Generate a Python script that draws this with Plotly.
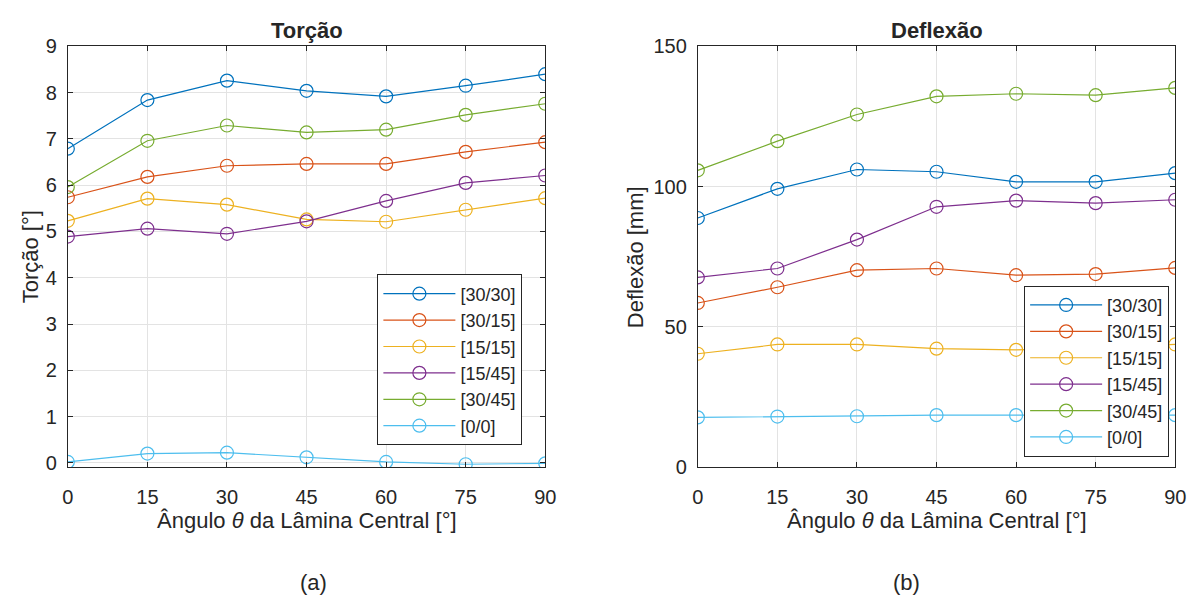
import plotly.graph_objects as go

angles = [0, 15, 30, 45, 60, 75, 90]
series_names = ["[30/30]", "[30/15]", "[15/15]", "[15/45]", "[30/45]", "[0/0]"]
colors = ["#0072BD", "#D95319", "#EDB120", "#7E2F8E", "#77AC30", "#4DBEEE"]

torcao_30_30 = [6.79, 7.84, 8.26, 8.04, 7.92, 8.15, 8.40]
torcao_30_15 = [5.74, 6.18, 6.42, 6.46, 6.46, 6.72, 6.93]
torcao_15_15 = [5.23, 5.71, 5.58, 5.26, 5.21, 5.47, 5.72]
torcao_15_45 = [4.89, 5.06, 4.95, 5.22, 5.66, 6.05, 6.21]
torcao_30_45 = [5.96, 6.96, 7.29, 7.14, 7.20, 7.52, 7.76]
torcao_0_0 = [0.02, 0.20, 0.22, 0.12, 0.02, -0.03, -0.01]

deflexao_30_30 = [88.8, 99.2, 106.1, 105.3, 101.7, 101.7, 104.8]
deflexao_30_15 = [58.5, 64.1, 70.2, 70.8, 68.4, 68.8, 71.0]
deflexao_15_15 = [40.4, 43.7, 43.7, 42.2, 41.8, 42.5, 43.7]
deflexao_15_45 = [67.6, 70.8, 81.1, 92.8, 95.0, 94.1, 95.3]
deflexao_30_45 = [105.8, 116.2, 125.7, 132.2, 133.1, 132.6, 135.2]
deflexao_0_0 = [17.7, 18.0, 18.1, 18.5, 18.5, 18.5, 18.5]

torcao = [torcao_30_30, torcao_30_15, torcao_15_15, torcao_15_45, torcao_30_45, torcao_0_0]
deflexao = [deflexao_30_30, deflexao_30_15, deflexao_15_15, deflexao_15_45, deflexao_30_45, deflexao_0_0]

x_ticks = [0, 15, 30, 45, 60, 75, 90]
torcao_ticks = [0, 1, 2, 3, 4, 5, 6, 7, 8, 9]
deflexao_ticks = [0, 50, 100, 150]

FONT = "Liberation Sans, Arial, sans-serif"
W, H = 1204, 613
L1, R1 = 62.7, 547.0
L2, R2 = 701.7, 1186.0
TOP, BOT = 36.7, 473.0

fig = go.Figure()
for name, col, ys in zip(series_names, colors, torcao):
    fig.add_trace(go.Scatter(
        x=angles, y=ys, name=name, mode="lines+markers",
        line=dict(color=col, width=1.2),
        marker=dict(symbol="circle-open", size=13, color=col, line=dict(width=1.2)),
        xaxis="x", yaxis="y", legend="legend"))
for name, col, ys in zip(series_names, colors, deflexao):
    fig.add_trace(go.Scatter(
        x=angles, y=ys, name=name, mode="lines+markers",
        line=dict(color=col, width=1.2),
        marker=dict(symbol="circle-open", size=13, color=col, line=dict(width=1.2)),
        xaxis="x2", yaxis="y2", legend="legend2"))

axis_common = dict(
    showline=True, linecolor="#262626", linewidth=1, mirror="ticks",
    ticks="inside", ticklen=5, tickcolor="#262626",
    showgrid=True, gridcolor="#e3e3e3", gridwidth=1, zeroline=False,
    tickfont=dict(family=FONT, size=20, color="#262626"),
)
xlabel = "Ângulo <i>θ</i> da Lâmina Central [°]"
ydom = [1 - BOT / H, 1 - TOP / H]

legend_common = dict(
    xanchor="left", yanchor="top",
    bordercolor="#262626", borderwidth=1, bgcolor="white",
    font=dict(family=FONT, size=18, color="#262626"),
    itemwidth=72, tracegroupgap=0,
)

fig.update_layout(
    width=W, height=H,
    margin=dict(l=0, r=0, t=0, b=0),
    paper_bgcolor="white", plot_bgcolor="white",
    font=dict(family=FONT, color="#262626"),
    xaxis=dict(domain=[L1 / W, R1 / W], range=[0, 90], tickvals=x_ticks,
               anchor="y", ticklabelstandoff=12, **axis_common),
    yaxis=dict(domain=ydom, range=[-0.09, 9], tickvals=torcao_ticks,
               anchor="x", ticklabelstandoff=6, **axis_common),
    xaxis2=dict(domain=[L2 / W, R2 / W], range=[0, 90], tickvals=x_ticks,
                anchor="y2", ticklabelstandoff=12, **axis_common),
    yaxis2=dict(domain=ydom, range=[0, 150], tickvals=deflexao_ticks,
                anchor="x2", ticklabelstandoff=6, **axis_common),
    legend=dict(x=376.7 / W, y=1 - 273.3 / H, **legend_common),
    legend2=dict(x=1032.7 / W, y=1 - 285.0 / H, **legend_common),
    showlegend=True,
)

ymid = 1 - (TOP + BOT) / 2 / H
annotations = [
    dict(text="<b>Torção</b>", x=(L1 + R1) / 2 / W, y=1 - 20 / H, size=22),
    dict(text="<b>Deflexão</b>", x=(L2 + R2) / 2 / W, y=1 - 20 / H, size=22),
    dict(text=xlabel, x=(L1 + R1) / 2 / W, y=1 - 528 / H, size=22),
    dict(text=xlabel, x=(L2 + R2) / 2 / W, y=1 - 528 / H, size=22),
    dict(text="Torção [°]", x=25 / W, y=ymid, size=22, textangle=-90),
    dict(text="Deflexão [mm]", x=638.5 / W, y=ymid, size=22, textangle=-90),
    dict(text="(a)", x=311.5 / W, y=1 - 593 / H, size=22),
    dict(text="(b)", x=913.5 / W, y=1 - 593 / H, size=22),
]
for a in annotations:
    size = a.pop("size")
    fig.add_annotation(xref="paper", yref="paper", showarrow=False,
                       xanchor="center", yanchor="middle",
                       font=dict(family=FONT, size=size, color="#262626"), **a)

fig.write_html("out.html")
